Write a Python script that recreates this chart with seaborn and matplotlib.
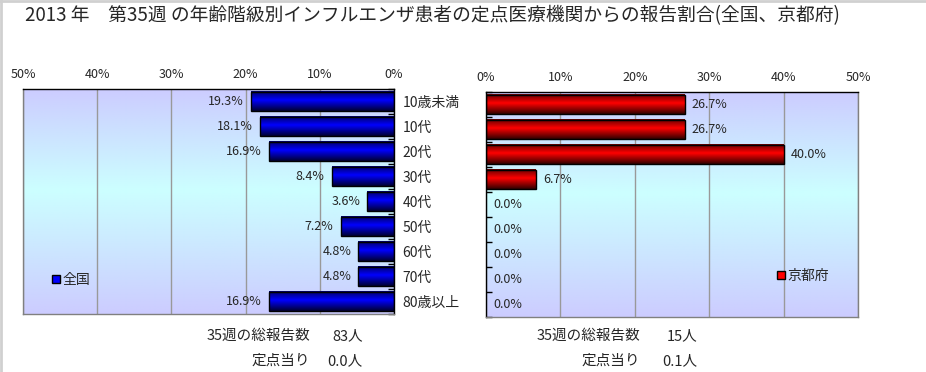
import matplotlib

matplotlib.use("Agg")
import matplotlib.pyplot as plt
import numpy as np
import pandas as pd
import seaborn as sns
from matplotlib.colors import LinearSegmentedColormap
from matplotlib.lines import Line2D
from matplotlib.patches import Patch

# Data
age_groups = ["10歳未満", "10代", "20代", "30代", "40代", "50代", "60代", "70代", "80歳以上"]
zenkoku_pct = [19.3, 18.1, 16.9, 8.4, 3.6, 7.2, 4.8, 4.8, 16.9]
kyoto_pct = [26.7, 26.7, 40.0, 6.7, 0.0, 0.0, 0.0, 0.0, 0.0]
x_ticks = [0, 10, 20, 30, 40, 50]

title = "2013 年\u3000第35週 の年齢階級別インフルエンザ患者の定点医療機関からの報告割合(全国、京都府)"
zenkoku_total = "83人"
zenkoku_per_site = "0.0人"
kyoto_total = "15人"
kyoto_per_site = "0.1人"

sns.set_theme(style="white")
plt.rcParams["font.family"] = ["Noto Sans CJK JP", "DejaVu Sans"]

BG_CMAP = LinearSegmentedColormap.from_list(
    "bg", [(0, "#ccccff"), (0.45, "#ccffff"), (1, "#ccccff")])
BLUE_CMAP = LinearSegmentedColormap.from_list(
    "blue", [(0, "#000060"), (0.45, "#0000ff"), (1, "#000030")])
RED_CMAP = LinearSegmentedColormap.from_list(
    "red", [(0, "#600000"), (0.45, "#ff0000"), (1, "#300000")])


def style_panel(ax, df, cmap, right_side):
    """Draw one gradient bar panel on ax."""
    sns.barplot(data=df, x="pct", y="age", orient="h", width=0.77,
                color="white", edgecolor="black", linewidth=1.0, ax=ax)
    n = len(df)
    if right_side:
        ax.set_xlim(0, 50)
    else:
        ax.set_xlim(50, 0)
    ax.set_ylim(n - 0.5, -0.5)

    # background gradient
    grad = np.linspace(0, 1, 256).reshape(-1, 1)
    xl = ax.get_xlim()
    ax.imshow(grad, extent=[xl[0], xl[1], n - 0.5, -0.5], aspect="auto",
              cmap=BG_CMAP, zorder=-2, interpolation="bilinear")

    # gradient fill of bars
    for patch in ax.patches:
        if not isinstance(patch, matplotlib.patches.Rectangle):
            continue
        x0, y0 = patch.get_x(), patch.get_y()
        w, h = patch.get_width(), patch.get_height()
        if w <= 0:
            patch.set_visible(False)
            continue
        patch.set_facecolor("none")
        patch.set_zorder(3)
        ax.imshow(grad, extent=[x0, x0 + w, y0 + h, y0], aspect="auto",
                  cmap=cmap, zorder=2, interpolation="bilinear")

    ax.set_xlim(xl)
    ax.set_ylim(n - 0.5, -0.5)

    ax.bar_label(ax.containers[0], fmt="%.1f%%", padding=5, fontsize=9)

    ax.set_xticks(x_ticks)
    ax.set_xticklabels([f"{t}%" for t in x_ticks])
    ax.xaxis.tick_top()
    ax.tick_params(axis="x", length=0, pad=6, labelsize=9)
    ax.grid(axis="x", color="#999999", linewidth=1)
    ax.set_axisbelow(True)
    ax.set_xlabel("")
    ax.set_ylabel("")

    ax.set_yticks(np.arange(-0.5, n, 1), minor=True)
    if right_side:
        ax.tick_params(axis="y", which="major", length=0, labelleft=False)
        ax.tick_params(axis="y", which="minor", direction="in", length=4,
                       width=1, color="black", left=True, right=False)
    else:
        ax.yaxis.tick_right()
        ax.tick_params(axis="y", which="major", length=0, pad=6, labelsize=10)
        ax.tick_params(axis="y", which="minor", direction="in", length=4,
                       width=1, color="black", right=True, left=False)

    for name, sp in ax.spines.items():
        sp.set_visible(True)
        sp.set_color("#808080")
        sp.set_linewidth(1)
    ax.spines["top"].set_color("black")
    ax.spines["left" if right_side else "right"].set_color("black")


fig = plt.figure(figsize=(9.26, 3.72), dpi=100)
ax_l = fig.add_axes([23 / 926, 1 - 314 / 372, 371 / 926, 225 / 372])
ax_r = fig.add_axes([486 / 926, 1 - 317 / 372, 372 / 926, 225 / 372])

df_z = pd.DataFrame({"age": age_groups, "pct": zenkoku_pct})
df_k = pd.DataFrame({"age": age_groups, "pct": kyoto_pct})
style_panel(ax_l, df_z, BLUE_CMAP, right_side=False)
style_panel(ax_r, df_k, RED_CMAP, right_side=True)

ax_l.legend(handles=[Patch(facecolor="#0000ff", edgecolor="black", label="全国")],
            loc="center left", bbox_to_anchor=(0.078, 0.151), frameon=False,
            handlelength=0.55, handleheight=0.55, handletextpad=0.2,
            borderpad=0, borderaxespad=0, fontsize=10)
ax_r.legend(handles=[Patch(facecolor="#ff0000", edgecolor="black", label="京都府")],
            loc="center left", bbox_to_anchor=(0.782, 0.183), frameon=False,
            handlelength=0.55, handleheight=0.55, handletextpad=0.2,
            borderpad=0, borderaxespad=0, fontsize=10)

fig.text(432 / 926, 1 - 16 / 372, title, ha="center", va="center", fontsize=13.5)

for x_lab, x_val, total, per in [(310, 363, zenkoku_total, zenkoku_per_site),
                                 (640, 697, kyoto_total, kyoto_per_site)]:
    fig.text(x_lab / 926, 1 - 336 / 372, "35週の総報告数", ha="right", va="center", fontsize=10.5)
    fig.text(x_val / 926, 1 - 336 / 372, total, ha="right", va="center", fontsize=10.5)
    fig.text(x_lab / 926, 1 - 361 / 372, "定点当り", ha="right", va="center", fontsize=10.5)
    fig.text(x_val / 926, 1 - 361 / 372, per, ha="right", va="center", fontsize=10.5)

# thin gray frame on the top and left edges of the image
fig.add_artist(Line2D([0, 1], [0.998, 0.998], transform=fig.transFigure,
                      color="#d0d0d0", linewidth=2))
fig.add_artist(Line2D([0.001, 0.001], [0, 1], transform=fig.transFigure,
                      color="#d0d0d0", linewidth=2))

fig.savefig("out.png", dpi=100)
